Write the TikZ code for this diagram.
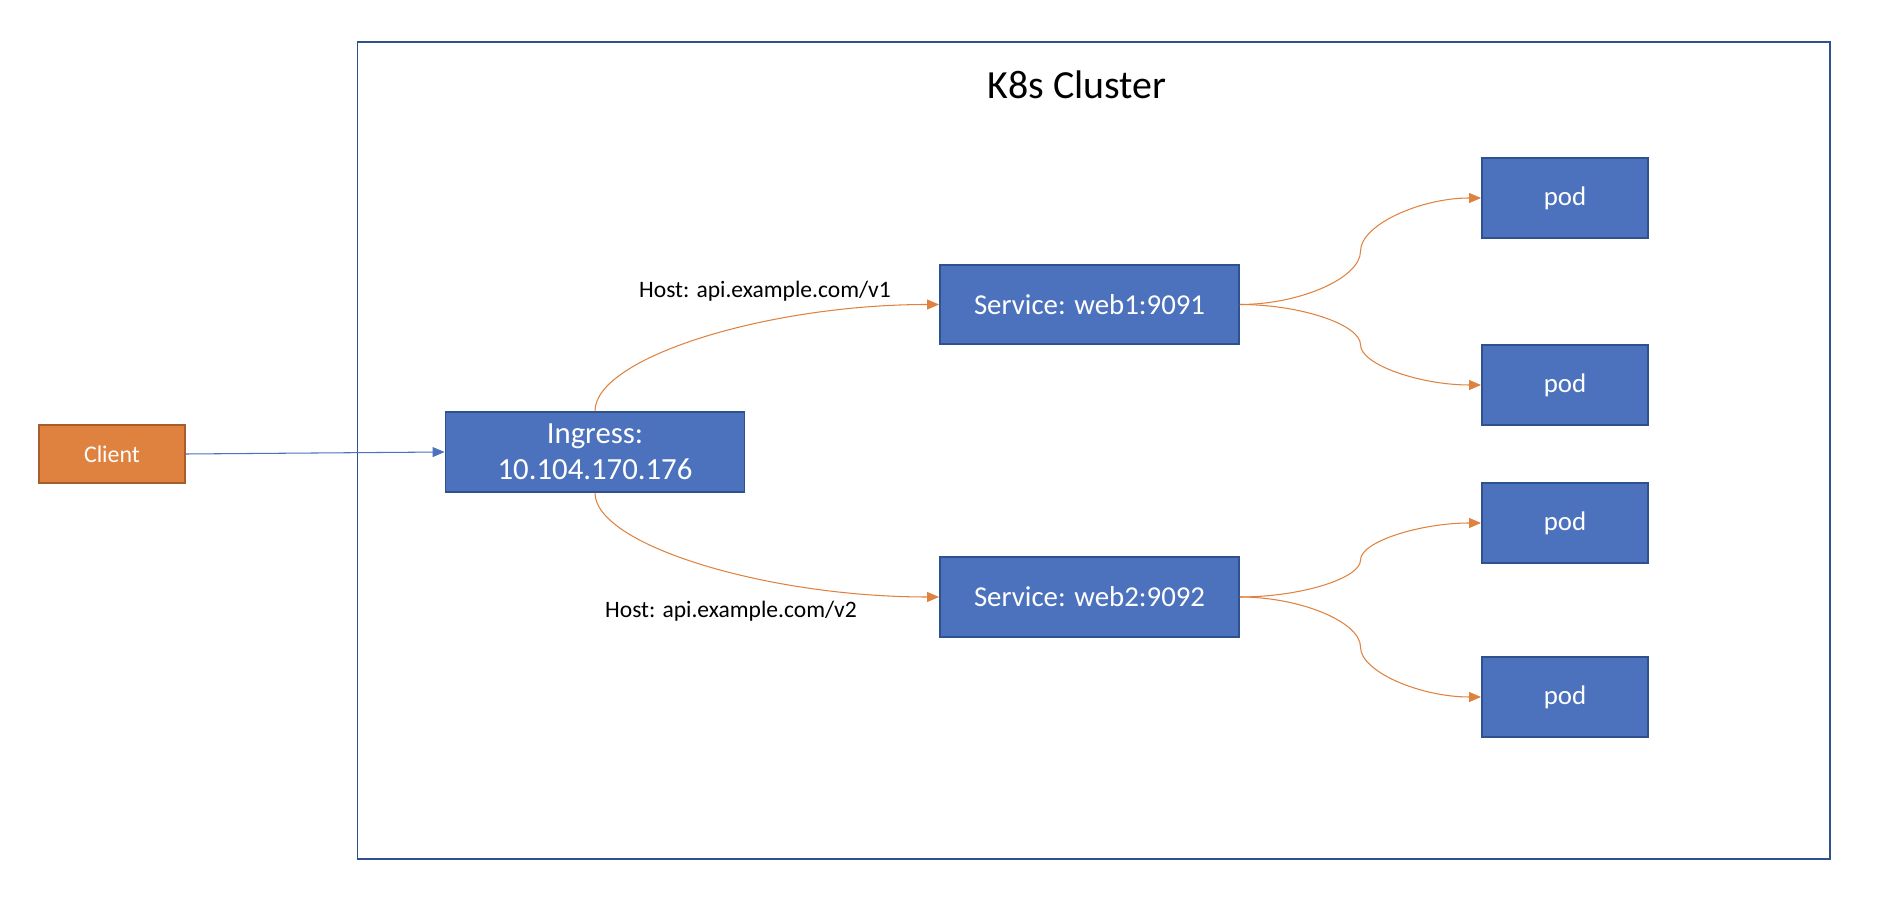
\documentclass[tikz,border=0pt]{standalone}
\usepackage{fontspec}
\setmainfont{Carlito}
\usetikzlibrary{arrows.meta,calc}

\definecolor{boxblue}{HTML}{4C72BD}
\definecolor{lineblue}{HTML}{2F528F}
\definecolor{boxorange}{HTML}{E0823F}
\definecolor{lineorange}{HTML}{A85E2A}

\begin{document}
\begin{tikzpicture}[-,
					auto,
					thick,
					blue node/.style={rectangle,draw=lineblue,fill=boxblue,line width=1.1pt,
						text=white,inner sep=0pt,minimum width=5.98cm,minimum height=1.6cm,
						font=\fontsize{16.4}{19}\selectfont},
					pod node/.style={blue node,minimum width=3.32cm,
						font=\fontsize{15.3}{18}\selectfont},
					client node/.style={blue node,draw=lineorange,fill=boxorange,
						minimum width=2.92cm,minimum height=1.16cm,
						font=\fontsize{13.6}{16}\selectfont},
					host/.style={font=\fontsize{13.4}{16}\selectfont},
					flow/.style={draw=boxorange,line width=0.6pt,
						-{Triangle[length=0.24cm,width=0.2cm]}},
					% elbow curves, vertical or horizontal first
					vh curve/.style={to path={.. controls ($(\tikztostart)!.5!(\tikztostart |- \tikztotarget)$)
						and ($(\tikztotarget)!.5!(\tikztostart |- \tikztotarget)$) .. (\tikztotarget)}},
					hv curve/.style={to path={.. controls ($(\tikztostart)!.5!(\tikztostart -| \tikztotarget)$)
						and ($(\tikztotarget)!.5!(\tikztostart -| \tikztotarget)$) .. (\tikztotarget)}}]

  \useasboundingbox (0,0) rectangle (37.88,18.04);

  % cluster frame
  \draw[lineblue,line width=1.1pt] (7.15,0.86) rectangle (36.6,17.2);
  \node[font=\fontsize{22.7}{26}\selectfont] (T) at (21.54,16.34) {K8s Cluster};

  \node[client node] (C) at (2.24,8.96) {Client};
  \node[blue node,align=center,font=\fontsize{17.5}{20.5}\selectfont] (I) at (11.9,9.0) {Ingress:\\10.104.170.176};
  \node[blue node,minimum height=1.58cm] (S1) at (21.79,11.95) {Service: web1:9091};
  \node[blue node] (S2) at (21.79,6.1) {Service: web2:9092};

  \node[pod node] (P1) at (31.3,14.08) {pod};
  \node[pod node] (P2) at (31.3,10.34) {pod};
  \node[pod node] (P3) at (31.3,7.58) {pod};
  \node[pod node] (P4) at (31.3,4.1) {pod};

  \node[host] (H1) at (15.3,12.22) {Host: api.example.com/v1};
  \node[host] (H2) at (14.62,5.82) {Host: api.example.com/v2};

  \draw[boxblue,line width=0.6pt,-{Triangle[length=0.24cm,width=0.2cm]}] (C.east) -- (I.west);

  \draw[flow] (I.north) to[vh curve] (S1.west);
  \draw[flow] (I.south) to[vh curve] (S2.west);

  \draw[flow] (S1.east) to[hv curve] ($(S1.east)!.5!(P1.west)$) to[vh curve] (P1.west);
  \draw[flow] (S1.east) to[hv curve] ($(S1.east)!.5!(P2.west)$) to[vh curve] (P2.west);
  \draw[flow] (S2.east) to[hv curve] ($(S2.east)!.5!(P3.west)$) to[vh curve] (P3.west);
  \draw[flow] (S2.east) to[hv curve] ($(S2.east)!.5!(P4.west)$) to[vh curve] (P4.west);
\end{tikzpicture}
\end{document}
